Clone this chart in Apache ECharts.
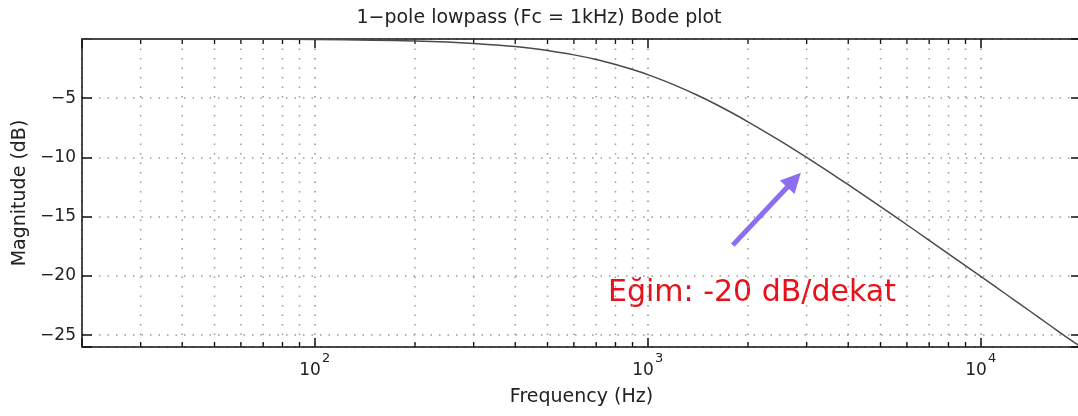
<!DOCTYPE html>
<html>
<head>
<meta charset="utf-8">
<script src="https://cdn.jsdelivr.net/npm/echarts@6.0.0/dist/echarts.min.js"></script>
<style>
html,body{margin:0;padding:0;background:#fff;}
#chart{width:1078px;height:416px;}
</style>
</head>
<body>
<div id="chart"></div>
<script>
// ---- data ----
var freqHz = [20, 30, 40, 50, 70, 100, 150, 200, 250, 300, 350, 400, 500, 600, 700, 800, 900, 1000,
  1200, 1400, 1600, 1800, 2000, 2500, 3000, 3500, 4000, 5000, 6000, 7000, 8000, 10000,
  12000, 14000, 16000, 18000, 20000];
var magDb = [0.00, 0.00, -0.01, -0.01, -0.02, -0.04, -0.10, -0.17, -0.26, -0.37, -0.50, -0.64, -0.97, -1.34, -1.73, -2.15, -2.58, -3.01,
  -3.87, -4.71, -5.51, -6.27, -6.99, -8.60, -10.00, -11.22, -12.30, -14.15, -15.68, -16.99, -18.13, -20.04,
  -21.61, -22.94, -24.10, -25.12, -26.00];
var xDecadeTicks = [100, 1000, 10000];
var xDecadeExp = ['2', '3', '4'];
var xMinorTicks = [30, 40, 50, 60, 70, 80, 90, 200, 300, 400, 500, 600, 700, 800, 900,
  2000, 3000, 4000, 5000, 6000, 7000, 8000, 9000];
var yTickLabels = [-25, -20, -15, -10, -5];
var arrowStart = [1800, -17.4];
var arrowEnd = [2750, -11.9];
var titleText = '1\u2212pole lowpass (Fc = 1kHz) Bode plot';
var xName = 'Frequency (Hz)';
var yName = 'Magnitude (dB)';
var noteText = 'E\u011fim: -20 dB/dekat';

var FONT = 'DejaVu Sans';
var chart = echarts.init(document.getElementById('chart'), null, {renderer: 'canvas'});

var seriesData = freqHz.map(function (f, i) { return [f, magDb[i]]; });
var minorData = xMinorTicks.map(function (f) { return [f, 0]; });

function decadeLabel(v) {
  for (var i = 0; i < xDecadeTicks.length; i++) {
    if (Math.abs(v - xDecadeTicks[i]) / xDecadeTicks[i] < 1e-6) {
      return '{b|10}{s|' + xDecadeExp[i] + '}';
    }
  }
  return '';
}
function yLabel(v) {
  for (var i = 0; i < yTickLabels.length; i++) {
    if (Math.abs(v - yTickLabels[i]) < 1e-6) return '\u2212' + Math.abs(yTickLabels[i]);
  }
  return '';
}

var axisBlack = {color: '#111', width: 1.5};

var option = {
  backgroundColor: '#fff',
  animation: false,
  title: {
    text: titleText,
    left: 'center',
    top: 9,
    padding: 0,
    textStyle: {fontFamily: FONT, fontSize: 19, fontWeight: 'normal', color: '#222'}
  },
  grid: {left: 82, top: 39, width: 999, height: 308, containLabel: false, outerBoundsMode: 'none'},
  xAxis: [{
    type: 'log',
    logBase: 10,
    min: 20,
    max: 20000,
    position: 'bottom',
    name: xName,
    nameLocation: 'middle',
    nameGap: 41,
    nameTextStyle: {fontFamily: FONT, fontSize: 19, color: '#222'},
    axisLine: {show: true, onZero: false, lineStyle: axisBlack},
    axisTick: {show: true, inside: true, length: 9, lineStyle: {color: '#111', width: 1.5}},
    axisLabel: {
      show: true,
      margin: 5,
      formatter: decadeLabel,
      rich: {
        b: {fontFamily: FONT, fontSize: 17, color: '#222', verticalAlign: 'bottom'},
        s: {fontFamily: FONT, fontSize: 13, color: '#222', verticalAlign: 'top', padding: [0, 0, 14, 1]}
      }
    },
    splitLine: {show: true, lineStyle: {color: '#8a8a8a', width: 1.5, type: [1.5, 8]}}
  }, {
    type: 'log',
    logBase: 10,
    min: 20,
    max: 20000,
    position: 'top',
    axisLine: {show: true, onZero: false, lineStyle: axisBlack},
    axisTick: {show: true, inside: true, length: 9, lineStyle: {color: '#111', width: 1.5}},
    axisLabel: {show: false},
    splitLine: {show: false}
  }],
  yAxis: [{
    type: 'value',
    min: -26,
    max: 0,
    position: 'left',
    name: yName,
    nameLocation: 'middle',
    nameGap: 50,
    nameTextStyle: {fontFamily: FONT, fontSize: 19, color: '#222'},
    axisLine: {show: true, onZero: false, lineStyle: axisBlack},
    axisTick: {show: true, inside: true, length: 10, lineStyle: {color: '#111', width: 1.5}},
    axisLabel: {show: true, margin: 6, formatter: yLabel, fontFamily: FONT, fontSize: 17, color: '#222'},
    splitLine: {show: true, lineStyle: {color: '#9a9a9a', width: 1.5, type: [1.5, 7]}}
  }, {
    type: 'value',
    min: -26,
    max: 0,
    position: 'right',
    axisLine: {show: true, onZero: false, lineStyle: axisBlack},
    axisTick: {show: true, inside: true, length: 10, lineStyle: {color: '#111', width: 1.5}},
    axisLabel: {show: false},
    splitLine: {show: false}
  }],
  series: [{
    type: 'custom',
    xAxisIndex: 0,
    yAxisIndex: 0,
    silent: true,
    z: 1,
    encode: {x: 0, y: 1},
    data: minorData,
    renderItem: function (params, api) {
      var x = api.coord([api.value(0), 0])[0];
      var cs = params.coordSys;
      var top = cs.y, bot = cs.y + cs.height;
      return {
        type: 'group',
        children: [
          {type: 'line', shape: {x1: x, y1: top, x2: x, y2: bot},
            style: {stroke: '#9a9a9a', lineWidth: 1.5, lineDash: [1.5, 8]}},
          {type: 'line', shape: {x1: x, y1: bot, x2: x, y2: bot - 5},
            style: {stroke: '#111', lineWidth: 1.3}},
          {type: 'line', shape: {x1: x, y1: top, x2: x, y2: top + 5},
            style: {stroke: '#111', lineWidth: 1.3}}
        ]
      };
    }
  }, {
    type: 'line',
    xAxisIndex: 0,
    yAxisIndex: 0,
    z: 3,
    data: seriesData,
    showSymbol: false,
    smooth: 0.3,
    lineStyle: {color: '#4a4a4a', width: 1.5},
    markLine: {
      silent: true,
      symbol: ['none', 'triangle'],
      symbolSize: 20,
      label: {show: false},
      lineStyle: {color: '#8D6EF2', width: 5, type: 'solid'},
      data: [[{coord: arrowStart}, {coord: arrowEnd}]],
      animation: false
    }
  }],
  graphic: [{
    type: 'text',
    left: 608,
    top: 278,
    style: {text: noteText, fontFamily: FONT, fontSize: 30, fill: '#E8101A'}
  }]
};
chart.setOption(option);
</script>
</body>
</html>
